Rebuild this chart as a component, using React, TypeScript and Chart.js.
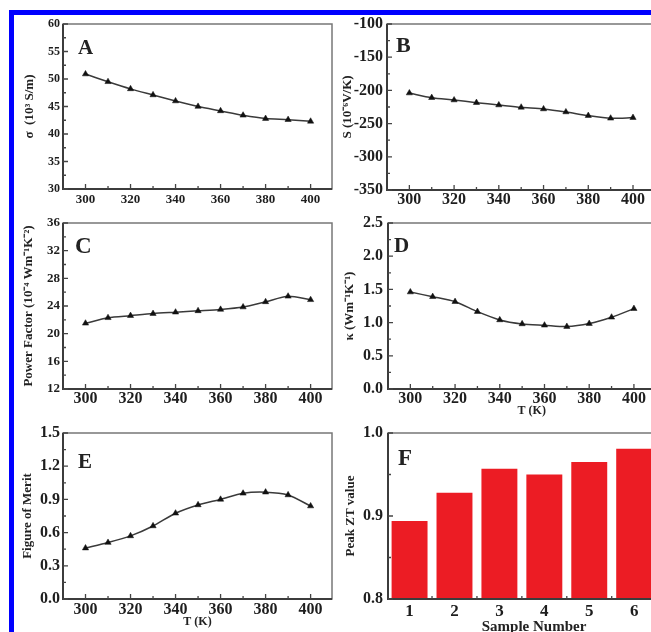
import React, { useEffect, useRef } from 'react';
import { Chart, registerables } from 'chart.js';

Chart.register(...registerables);

const FONT = '"Liberation Serif", "Times New Roman", serif';

// ---- data ----
const temperatures = [300, 310, 320, 330, 340, 350, 360, 370, 380, 390, 400];
const conductivity = [50.9, 49.5, 48.2, 47.1, 46.0, 45.0, 44.2, 43.4, 42.8, 42.6, 42.3];
const seebeck = [-204, -211, -214.5, -218.5, -222, -225.5, -228, -232.5, -238, -242, -241];
const powerFactor = [21.5, 22.3, 22.6, 22.9, 23.1, 23.3, 23.5, 23.85, 24.6, 25.4, 24.9];
const thermalConductivity = [1.46, 1.39, 1.315, 1.165, 1.04, 0.98, 0.96, 0.94, 0.985, 1.08, 1.21];
const figureOfMerit = [0.46, 0.51, 0.57, 0.66, 0.775, 0.85, 0.9, 0.955, 0.965, 0.94, 0.84];
const sampleNumbers = [1, 2, 3, 4, 5, 6];
const peakZT = [0.894, 0.928, 0.957, 0.95, 0.965, 0.981];

// ---- tick labels ----
const tempTicks = [300, 320, 340, 360, 380, 400];
const sigmaTicks = [30, 35, 40, 45, 50, 55, 60];
const seebeckTicks = [-350, -300, -250, -200, -150, -100];
const pfTicks = [12, 16, 20, 24, 28, 32, 36];
const kappaTicks = [0, 0.5, 1.0, 1.5, 2.0, 2.5];
const zTicks = [0, 0.3, 0.6, 0.9, 1.2, 1.5];
const peakTicks = [0.8, 0.9, 1.0];
const sampleTicks = [1, 2, 3, 4, 5, 6];
const sampleMinorTicks = [1.5, 2.5, 3.5, 4.5, 5.5];

const mid = (a: number[]) => a.slice(1).map((v, i) => (v + a[i]) / 2);

type PanelCfg = {
  letter: string;
  kind: 'line' | 'bar';
  canvas: [number, number, number, number];
  plot: [number, number, number, number];
  xs: number[];
  ys: number[];
  xMin: number; xMax: number; xTicks: number[]; xMarks: number[]; xMinor: number[];
  yMin: number; yMax: number; yTicks: number[]; yMinor: number[]; yDec: number;
  xTickSize: number; xTickPad: number; yTickSize: number; yTickPad: number;
  yTitle: string; yTitleSize: number; yTitleCenter: number;
  xTitle?: string; xTitleSize?: number; xTitleCenter?: number;
  lx: number; ly: number; lsize: number;
};

const panels: PanelCfg[] = [
  {
    letter: 'A', kind: 'line', canvas: [15, 4, 325, 211], plot: [63, 24, 332, 189],
    xs: temperatures, ys: conductivity,
    xMin: 290, xMax: 409.5, xTicks: tempTicks, xMarks: tempTicks, xMinor: mid(tempTicks),
    yMin: 30, yMax: 60, yTicks: sigmaTicks, yMinor: mid(sigmaTicks), yDec: 0,
    xTickSize: 13, xTickPad: 3, yTickSize: 12, yTickPad: 3,
    yTitle: 'σ  (10³ S/m)', yTitleSize: 13, yTitleCenter: 30,
    lx: 15, ly: 30, lsize: 21,
  },
  {
    letter: 'B', kind: 'line', canvas: [340, 4, 340, 211], plot: [387, 24, 680, 190],
    xs: temperatures, ys: seebeck,
    xMin: 290, xMax: 419, xTicks: tempTicks, xMarks: tempTicks, xMinor: mid(tempTicks),
    yMin: -350, yMax: -100, yTicks: seebeckTicks, yMinor: mid(seebeckTicks), yDec: 0,
    xTickSize: 16, xTickPad: 0, yTickSize: 16, yTickPad: 4,
    yTitle: 'S (10⁻⁶V/K)', yTitleSize: 13, yTitleCenter: 348,
    lx: 9, ly: 28, lsize: 22,
  },
  {
    letter: 'C', kind: 'line', canvas: [15, 203, 325, 222], plot: [63, 223, 332, 389],
    xs: temperatures, ys: powerFactor,
    xMin: 290, xMax: 409.5, xTicks: tempTicks, xMarks: tempTicks, xMinor: mid(tempTicks),
    yMin: 12, yMax: 36, yTicks: pfTicks, yMinor: mid(pfTicks), yDec: 0,
    xTickSize: 16, xTickPad: 0, yTickSize: 13, yTickPad: 3,
    yTitle: 'Power Factor (10⁻⁴ Wm⁻¹K⁻²)', yTitleSize: 13, yTitleCenter: 29,
    lx: 12, ly: 30, lsize: 23,
  },
  {
    letter: 'D', kind: 'line', canvas: [340, 203, 340, 222], plot: [388, 223, 680, 389],
    xs: temperatures, ys: thermalConductivity,
    xMin: 290, xMax: 418.6, xTicks: tempTicks, xMarks: tempTicks, xMinor: mid(tempTicks),
    yMin: 0, yMax: 2.5, yTicks: kappaTicks, yMinor: mid(kappaTicks), yDec: 1,
    xTickSize: 16, xTickPad: 0, yTickSize: 16, yTickPad: 5,
    yTitle: 'κ (Wm⁻¹K⁻¹)', yTitleSize: 13, yTitleCenter: 350,
    xTitle: 'T (K)', xTitleSize: 12, xTitleCenter: 411,
    lx: 6, ly: 29, lsize: 21,
  },
  {
    letter: 'E', kind: 'line', canvas: [15, 413, 325, 227], plot: [63, 433, 332, 599],
    xs: temperatures, ys: figureOfMerit,
    xMin: 290, xMax: 409.5, xTicks: tempTicks, xMarks: tempTicks, xMinor: mid(tempTicks),
    yMin: 0, yMax: 1.5, yTicks: zTicks, yMinor: mid(zTicks), yDec: 1,
    xTickSize: 16, xTickPad: 1, yTickSize: 16, yTickPad: 3,
    yTitle: 'Figure of Merit', yTitleSize: 13, yTitleCenter: 28,
    xTitle: 'T (K)', xTitleSize: 12, xTitleCenter: 622,
    lx: 15, ly: 35, lsize: 21,
  },
  {
    letter: 'F', kind: 'bar', canvas: [340, 413, 340, 227], plot: [388, 433, 680, 599],
    xs: sampleNumbers, ys: peakZT,
    xMin: 0.52, xMax: 7.02, xTicks: sampleTicks, xMarks: [], xMinor: sampleMinorTicks,
    yMin: 0.8, yMax: 1.0, yTicks: peakTicks, yMinor: mid(peakTicks), yDec: 1,
    xTickSize: 17, xTickPad: 2, yTickSize: 16, yTickPad: 5,
    yTitle: 'Peak ZT value', yTitleSize: 13, yTitleCenter: 351,
    xTitle: 'Sample Number', xTitleSize: 15, xTitleCenter: 627,
    lx: 10, ly: 32, lsize: 23,
  },
];

function Panel({ p }: { p: PanelCfg }) {
  const ref = useRef<HTMLCanvasElement>(null);
  useEffect(() => {
    const [cx, cy, cw, ch] = p.canvas;
    const [l, t, r, b] = p.plot;
    const yW = l - cx;
    const xH = cy + ch - b;
    const yTitleLH = p.yTitleSize * 1.2;
    const yTitlePad = p.yTitleCenter - cx - yTitleLH / 2;
    const xTitleLH = (p.xTitleSize || 12) * 1.2;
    const xTitlePad = p.xTitleCenter ? cy + ch - p.xTitleCenter - xTitleLH / 2 : 0;

    const frame = {
      id: 'frame' + p.letter,
      afterDraw(chart: any) {
        const { ctx, chartArea } = chart;
        const { left, top, right, bottom } = chartArea;
        const xs = chart.scales.x;
        const ys = chart.scales.y;
        ctx.save();
        ctx.strokeStyle = '#777';
        ctx.lineWidth = 1.5;
        ctx.strokeRect(left, top, right - left, bottom - top);
        ctx.strokeStyle = '#3c3c3c';
        ctx.lineWidth = 2;
        ctx.beginPath();
        ctx.moveTo(left, top);
        ctx.lineTo(left, bottom);
        ctx.lineTo(right, bottom);
        ctx.stroke();
        ctx.lineWidth = 1.3;
        ctx.strokeStyle = '#444';
        ctx.beginPath();
        const xMark = (v: number, len: number) => {
          const px = xs.getPixelForValue(v);
          ctx.moveTo(px, bottom);
          ctx.lineTo(px, bottom - len);
        };
        const yMark = (v: number, len: number) => {
          const py = ys.getPixelForValue(v);
          ctx.moveTo(left, py);
          ctx.lineTo(left + len, py);
        };
        p.xMarks.forEach((v) => xMark(v, 5));
        p.xMinor.forEach((v) => xMark(v, 3));
        p.yTicks.forEach((v) => yMark(v, 5));
        p.yMinor.forEach((v) => yMark(v, 3));
        ctx.stroke();
        ctx.fillStyle = '#222';
        ctx.font = `bold ${p.lsize}px ${FONT}`;
        ctx.textBaseline = 'alphabetic';
        ctx.textAlign = 'left';
        ctx.fillText(p.letter, left + p.lx, top + p.ly);
        ctx.restore();
      },
    };

    const dataset: any =
      p.kind === 'line'
        ? {
            data: p.xs.map((x, i) => ({ x, y: p.ys[i] })),
            borderColor: '#3a3a3a',
            borderWidth: 1.5,
            pointStyle: 'triangle',
            pointRadius: 3.6,
            pointBackgroundColor: '#111',
            pointBorderColor: '#111',
            pointBorderWidth: 0.5,
            tension: 0.25,
            fill: false,
          }
        : {
            data: p.xs.map((x, i) => ({ x, y: p.ys[i] })),
            backgroundColor: '#ec1c24',
            borderWidth: 0,
            barPercentage: 1,
            categoryPercentage: 0.8,
          };

    const chart = new Chart(ref.current as HTMLCanvasElement, {
      type: p.kind,
      data: { datasets: [dataset] },
      options: {
        animation: false,
        responsive: false,
        maintainAspectRatio: false,
        layout: { padding: { left: 0, top: t - cy, right: cx + cw - r, bottom: 0 } },
        plugins: { legend: { display: false }, tooltip: { enabled: false } },
        scales: {
          x: {
            type: 'linear',
            offset: false,
            min: p.xMin,
            max: p.xMax,
            afterBuildTicks: (s: any) => {
              s.ticks = p.xTicks.map((v) => ({ value: v }));
            },
            afterFit: (s: any) => {
              s.height = xH;
            },
            grid: { display: false, drawTicks: false, offset: false },
            border: { display: false },
            ticks: {
              autoSkip: false,
              maxRotation: 0,
              padding: p.xTickPad,
              color: '#1e1e1e',
              font: { family: FONT, size: p.xTickSize, weight: 'bold' },
              callback: (v: any) => String(v),
            },
            title: p.xTitle
              ? {
                  display: true,
                  text: p.xTitle,
                  color: '#222',
                  font: { family: FONT, size: p.xTitleSize, weight: 'bold' },
                  padding: { top: 0, bottom: xTitlePad },
                }
              : { display: false },
          },
          y: {
            type: 'linear',
            min: p.yMin,
            max: p.yMax,
            afterBuildTicks: (s: any) => {
              s.ticks = p.yTicks.map((v) => ({ value: v }));
            },
            afterFit: (s: any) => {
              s.width = yW;
            },
            grid: { display: false, drawTicks: false },
            border: { display: false },
            ticks: {
              padding: p.yTickPad,
              color: '#1e1e1e',
              font: { family: FONT, size: p.yTickSize, weight: 'bold' },
              callback: (v: any) => Number(v).toFixed(p.yDec),
            },
            title: {
              display: true,
              text: p.yTitle,
              color: '#222',
              font: { family: FONT, size: p.yTitleSize, weight: 'bold' },
              padding: { top: yTitlePad, bottom: 0 },
            },
          },
        },
      } as any,
      plugins: [frame],
    });
    return () => chart.destroy();
  }, []);
  const [cx, cy, cw, ch] = p.canvas;
  return (
    <canvas
      ref={ref}
      width={cw}
      height={ch}
      style={{ position: 'absolute', left: cx, top: cy, width: cw, height: ch }}
    />
  );
}

export default function App() {
  return (
    <div
      style={{
        position: 'fixed',
        left: 0,
        top: 0,
        width: 651,
        height: 632,
        overflow: 'hidden',
        background: '#fff',
      }}
    >
      {panels.map((p) => (
        <Panel key={p.letter} p={p} />
      ))}
      <div style={{ position: 'absolute', left: 9, top: 10, width: 642, height: 5, background: '#0000ff' }} />
      <div style={{ position: 'absolute', left: 9, top: 10, width: 5, height: 622, background: '#0000ff' }} />
    </div>
  );
}
